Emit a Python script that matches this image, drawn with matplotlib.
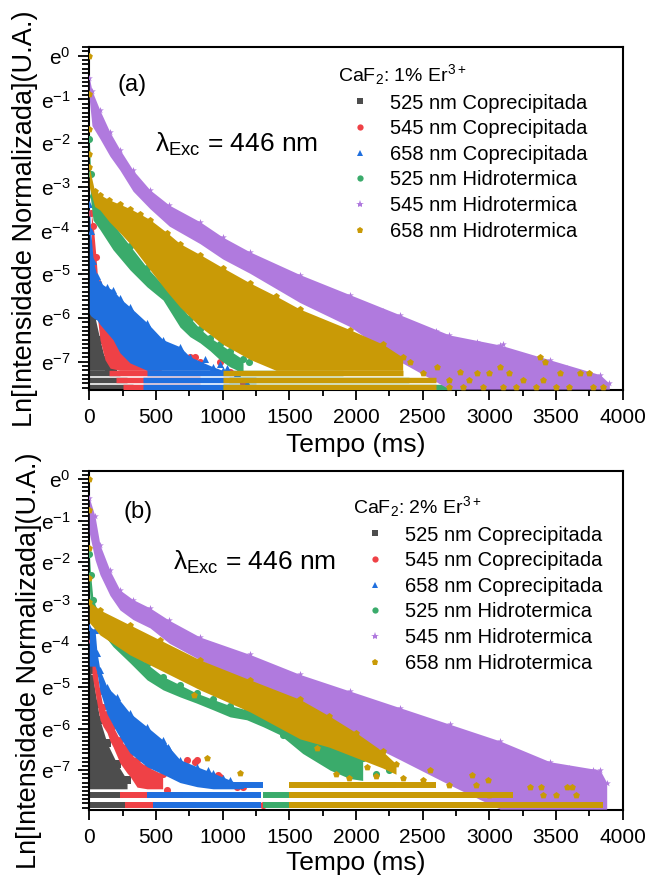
import numpy as np
import matplotlib
matplotlib.use("Agg")
import matplotlib.pyplot as plt
from matplotlib.lines import Line2D
from matplotlib.ticker import MultipleLocator, FuncFormatter

plt.rcParams['font.family'] = ['Liberation Sans', 'DejaVu Sans']
plt.rcParams['mathtext.fontset'] = 'custom'
plt.rcParams['mathtext.rm'] = 'Liberation Sans'
plt.rcParams['mathtext.it'] = 'Liberation Sans:italic'
plt.rcParams['mathtext.bf'] = 'Liberation Sans:bold'

# ---- series definitions -------------------------------------------------
labels = ["525 nm Coprecipitada", "545 nm Coprecipitada", "658 nm Coprecipitada",
          "525 nm Hidrotermica", "545 nm Hidrotermica", "658 nm Hidrotermica"]
colors = ["#4d4d4d", "#ef4146", "#1f6fde", "#3aab6b", "#b07ade", "#c99a06"]
markers = ["s", "o", "^", "o", "*", "p"]

# Each decay is described by its noise envelope (time ms, upper ln I, lower ln I),
# the quantised floor rows (ln I, t start, t end) and isolated points (t, ln I).

# ---------------- CaF2: 1% Er3+ ----------------
a_525c_band = [(0, -5.9, -7.2), (40, -5.95, -7.2), (80, -6.5, -7.2), (118, -6.96, -7.2),
               (150, -7.12, -7.22), (178, -7.22, -7.24)]
a_525c_rows = [(-7.27, 0, 230), (-7.42, 0, 280), (-7.57, 0, 330)]
a_525c_pts = []

a_545c_band = [(15, -3.6, -4.3), (30, -3.9, -5.0), (50, -4.6, -5.7), (65, -5.2, -6.1),
               (80, -5.7, -6.5), (118, -6.0, -6.96), (156, -6.27, -7.15), (230, -6.5, -7.2),
               (306, -6.73, -7.2), (380, -6.9, -7.2), (455, -7.0, -7.2), (540, -7.1, -7.2)]
a_545c_rows = [(-7.27, 150, 830), (-7.42, 200, 830), (-7.57, 250, 830)]
a_545c_pts = [(620, -7.05), (700, -7.1), (755, -6.89), (790, -6.89), (830, -7.0),
              (982, -7.0), (1057, -7.24), (1155, -7.5)]

a_658c_band = [(0, -3.4, -5.9), (10, -4.0, -5.95), (30, -4.7, -6.0), (58, -5.05, -6.05),
               (80, -5.2, -6.15), (133, -5.3, -6.34), (178, -5.36, -6.5), (230, -5.55, -6.8),
               (305, -5.75, -7.03), (433, -6.11, -7.2), (553, -6.5, -7.2), (680, -6.66, -7.2),
               (755, -6.89, -7.2), (928, -7.12, -7.2), (1000, -7.2, -7.22)]
a_658c_rows = [(-7.27, 430, 1100), (-7.42, 400, 1250), (-7.57, 400, 1250)]
a_658c_pts = [(870, -6.95), (980, -7.05), (1030, -7.15), (1108, -7.26), (1183, -7.49)]

a_525h_band = [(0, -1.9, -2.4), (10, -2.7, -3.3), (28, -3.2, -3.76), (80, -3.45, -3.98),
               (178, -3.85, -4.44), (305, -4.35, -4.9), (433, -4.85, -5.29), (553, -5.25, -5.59),
               (680, -5.7, -6.21), (755, -6.0, -6.43), (830, -6.25, -6.57), (905, -6.45, -6.75),
               (980, -6.6, -6.96), (1055, -6.75, -7.12), (1153, -6.95, -7.26)]
a_525h_rows = [(-7.27, 1100, 1900), (-7.42, 1050, 2400), (-7.57, 1000, 2800)]
a_525h_pts = [(1200, -7.0), (1290, -6.9), (1600, -6.55), (1680, -6.65), (1750, -6.75),
              (3380, -7.45)]

a_545h_band = [(0, -0.5, -1.0), (20, -0.8, -1.6), (80, -1.25, -1.9), (155, -1.75, -2.3),
               (230, -2.15, -2.62), (328, -2.62, -3.1), (455, -3.07, -3.5), (600, -3.42, -3.9),
               (830, -3.8, -4.3), (1000, -4.15, -4.65), (1205, -4.49, -4.98),
               (1580, -5.01, -5.65), (1955, -5.47, -6.2), (2330, -5.93, -7.0),
               (2700, -6.39, -7.63), (3080, -6.62, -7.63), (3455, -6.96, -7.63),
               (3830, -7.3, -7.63), (3900, -7.5, -7.63)]
a_545h_rows = []
a_545h_pts = [(2392, -6.16), (2905, -6.55), (3103, -6.6), (3283, -7.0), (3583, -7.15),
              (3620, -7.2), (2600, -6.3), (2200, -5.85)]

a_658h_band = [(0, -2.55, -3.0), (40, -3.1, -3.45), (80, -3.18, -3.53), (150, -3.3, -3.8),
               (230, -3.4, -4.05), (305, -3.5, -4.3), (380, -3.62, -4.6), (455, -3.75, -4.9),
               (583, -4.05, -5.4), (680, -4.3, -5.75), (830, -4.55, -6.2),
               (1000, -4.85, -6.6), (1205, -5.2, -6.95), (1400, -5.5, -7.2),
               (1580, -5.8, -7.2), (1955, -6.27, -7.2), (2200, -6.6, -7.2), (2350, -6.9, -7.2)]
a_658h_rows = [(-7.27, 1000, 2350), (-7.42, 1000, 2600), (-7.57, 1000, 2600)]
a_658h_pts = [(1, 0.0), (1, -0.88), (1, -1.68), (1, -2.25),
              (1680, -6.46), (2205, -6.8), (2280, -7.0), (2405, -7.0), (2605, -7.12),
              (2780, -7.24), (2905, -7.27), (3000, -7.27), (3080, -7.12), (3150, -7.27),
              (3380, -6.89), (3420, -7.0), (3530, -7.27), (3680, -7.27), (3750, -7.27),
              (2500, -7.27), (2700, -7.42), (2850, -7.42), (3250, -7.42), (3400, -7.42),
              (2700, -7.57), (2800, -7.57), (2950, -7.57), (3100, -7.57), (3200, -7.57),
              (3350, -7.57), (3500, -7.57), (3600, -7.57), (3780, -7.57), (3850, -7.57)]

# ---------------- CaF2: 2% Er3+ ----------------
b_525c_band = [(0, -4.6, -7.45), (28, -4.8, -7.45), (58, -5.4, -7.45), (80, -5.8, -7.45),
               (133, -6.35, -7.45), (208, -6.85, -7.45), (283, -7.24, -7.45)]
b_525c_rows = [(-7.60, 0, 250), (-7.83, 0, 290)]
b_525c_pts = []

b_545c_band = [(20, -3.9, -4.7), (58, -4.66, -5.4), (80, -5.1, -5.79), (103, -5.48, -5.95),
               (133, -5.65, -6.1), (155, -5.79, -6.3), (178, -5.95, -6.44), (230, -6.27, -6.83),
               (283, -6.45, -7.07), (305, -6.59, -7.15), (358, -6.75, -7.41), (433, -6.92, -7.45),
               (550, -7.1, -7.45)]
b_545c_rows = [(-7.60, 230, 700), (-7.83, 270, 800)]
b_545c_pts = [(580, -7.48), (733, -6.76), (793, -6.8), (805, -6.75), (965, -7.11),
              (980, -7.16), (1108, -7.41), (1153, -7.41), (1300, -7.83)]

b_658c_band = [(0, -3.55, -4.5), (43, -3.63, -4.5), (58, -4.18, -4.66), (80, -4.59, -5.1),
               (133, -5.0, -5.65), (208, -5.24, -6.1), (305, -5.63, -6.59), (433, -5.96, -6.92),
               (553, -6.28, -7.1), (680, -6.75, -7.3), (808, -6.92, -7.4), (928, -7.07, -7.45),
               (1055, -7.24, -7.45), (1130, -7.35, -7.45)]
b_658c_rows = [(-7.37, 900, 1300), (-7.60, 433, 1290), (-7.83, 480, 1290)]
b_658c_pts = [(590, -6.44), (600, -6.5), (890, -7.0), (1000, -7.2)]

b_525h_band = [(0, -1.8, -2.6), (10, -2.3, -3.1), (28, -2.9, -3.39), (80, -3.3, -3.63),
               (178, -3.7, -4.03), (305, -4.1, -4.42), (433, -4.45, -4.83), (553, -4.75, -5.07),
               (680, -4.95, -5.24), (805, -5.15, -5.39), (928, -5.3, -5.55), (1055, -5.45, -5.72),
               (1180, -5.55, -5.79), (1305, -5.7, -5.96), (1430, -5.8, -6.15), (1600, -6.0, -6.6),
               (1805, -6.2, -7.0), (1950, -6.4, -7.2), (2050, -6.7, -7.25)]
b_525h_rows = [(-7.37, 1800, 2300), (-7.60, 1300, 3000), (-7.83, 1300, 3500)]
b_525h_pts = [(1450, -6.15), (1530, -6.27), (1705, -6.59), (2150, -7.1), (2250, -7.0)]

b_545h_band = [(0, -0.45, -1.3), (43, -0.9, -1.94), (80, -1.58, -2.3), (155, -2.2, -2.8),
               (230, -2.67, -3.15), (328, -2.9, -3.38), (455, -3.1, -3.58), (600, -3.4, -3.95),
               (830, -3.8, -4.35), (1205, -4.22, -4.95), (1580, -4.7, -5.8),
               (1955, -5.1, -6.15), (2330, -5.5, -6.75), (2705, -5.9, -7.36), (3080, -6.3, -7.94),
               (3455, -6.8, -7.94), (3830, -7.0, -7.94), (3880, -7.3, -7.94)]
b_545h_rows = []
b_545h_pts = [(2558, -6.1), (3460, -6.95), (3600, -6.95), (3780, -7.0)]

b_658h_band = [(0, -2.95, -3.45), (80, -3.15, -3.75), (305, -3.51, -4.23), (530, -3.87, -4.59),
               (830, -4.35, -5.07), (1205, -4.83, -5.6), (1580, -5.3, -6.25), (1800, -5.7, -6.45),
               (2000, -6.1, -6.7), (2200, -6.55, -6.95), (2300, -6.85, -7.1)]
b_658h_rows = [(-7.37, 1500, 2600), (-7.60, 1500, 3180), (-7.83, 1500, 3850)]
b_658h_pts = [(1, 0.0), (1, -0.75), (1, -1.65), (1, -2.37),
              (783, -5.19), (880, -6.7), (1130, -7.07), (1705, -6.47), (2083, -6.93),
              (1850, -7.1), (1950, -7.2), (2150, -7.15), (2350, -7.2),
              (2558, -7.0), (2870, -7.12), (2993, -7.24), (3305, -7.4), (3390, -7.4),
              (3580, -7.4), (3620, -7.4), (2505, -7.24), (2700, -7.37), (2900, -7.37),
              (3000, -7.6), (3400, -7.6), (3500, -7.6), (3650, -7.6)]

panel_a = [(a_525c_band, a_525c_rows, a_525c_pts), (a_545c_band, a_545c_rows, a_545c_pts),
           (a_658c_band, a_658c_rows, a_658c_pts), (a_525h_band, a_525h_rows, a_525h_pts),
           (a_545h_band, a_545h_rows, a_545h_pts), (a_658h_band, a_658h_rows, a_658h_pts)]
panel_b = [(b_525c_band, b_525c_rows, b_525c_pts), (b_545c_band, b_545c_rows, b_545c_pts),
           (b_658c_band, b_658c_rows, b_658c_pts), (b_525h_band, b_525h_rows, b_525h_pts),
           (b_545h_band, b_545h_rows, b_545h_pts), (b_658h_band, b_658h_rows, b_658h_pts)]

MS = 26          # marker area (pt^2)


def draw_series(ax, band, rows, pts, color, marker, z, row_lw):
    if band:
        b = np.array(band, float)
        ax.fill_between(b[:, 0], b[:, 2], b[:, 1], color=color, lw=0, zorder=z)
        ax.scatter(b[:, 0], b[:, 1], s=MS, marker=marker, color=color, lw=0, zorder=z)
    for lvl, t0, t1 in rows:
        ax.plot([t0, t1], [lvl, lvl], color=color, lw=row_lw, solid_capstyle='butt', zorder=z)
    if pts:
        p = np.array(pts, float)
        ax.scatter(p[:, 0], p[:, 1], s=MS, marker=marker, color=color, lw=0, zorder=z)


def e_label(v, pos):
    n = int(round(v))
    return r'$\mathregular{e^{%d}}$' % n


W, H = 651, 881
fig = plt.figure(figsize=(W / 100, H / 100), dpi=100)


def px_axes(left, top, right, bottom):
    return fig.add_axes([left / W, 1 - bottom / H, (right - left) / W, (bottom - top) / H])


ax_a = px_axes(89.3, 47, 622.7, 390)
ax_b = px_axes(89.3, 470.7, 622.7, 810)

setup = [
    (ax_a, panel_a, -7.65, 3.9, "(a)", (0.080, 0.889), (0.123, 0.694), "1%",
     (338, 62), -0.097, 0.5, -0.125),
    (ax_b, panel_b, -7.96, 4.3, "(b)", (0.091, 0.878), (0.157, 0.707), "2%",
     (353, 494), -0.089, 0.44, -0.12),
]

for ax, panel, ymin, row_lw, tag, tag_xy, lam_xy, conc, leg_xy, ylx, yly, xly in setup:
    for i, (band, rows, pts) in enumerate(panel):
        draw_series(ax, band, rows, pts, colors[i], markers[i], 2 + i, row_lw)

    ax.set_xlim(0, 4000)
    ax.set_ylim(ymin, 0.2)
    ax.xaxis.set_major_locator(MultipleLocator(500))
    ax.xaxis.set_minor_locator(MultipleLocator(250))
    ax.yaxis.set_major_locator(MultipleLocator(1))
    ax.yaxis.set_minor_locator(MultipleLocator(0.1))
    ax.yaxis.set_major_formatter(FuncFormatter(e_label))
    ax.tick_params(axis='both', which='both', direction='out', width=1.3,
                   top=False, right=False, labelsize=15)
    ax.tick_params(axis='y', which='major', length=8, pad=5.5)
    ax.tick_params(axis='y', which='minor', length=4.8)
    ax.tick_params(axis='x', which='major', length=7, pad=6)
    ax.tick_params(axis='x', which='minor', length=4.5)
    for s in ax.spines.values():
        s.set_linewidth(1.5)

    ax.set_xlabel("Tempo (ms)", fontsize=19)
    ax.xaxis.set_label_coords(0.5, xly)
    ax.set_ylabel("Ln[Intensidade Normalizada](U.A.)", fontsize=19.5)
    ax.yaxis.set_label_coords(ylx, yly)

    ax.text(*tag_xy, tag, transform=ax.transAxes, fontsize=17, ha='center', va='center')
    ax.text(*lam_xy, r'$\mathrm{\lambda}_{\mathrm{Exc}}$ = 446 nm', transform=ax.transAxes,
            fontsize=19, ha='left', va='baseline')

    handles = [Line2D([], [], ls='none', marker=markers[i], color=colors[i],
                      markersize=4.5 if markers[i] != '*' else 6, markeredgewidth=0)
               for i in range(6)]
    leg = ax.legend(handles, labels, title=r'CaF$_2$: ' + conc + r' Er$^{3+}$',
                    loc='upper left', bbox_to_anchor=(leg_xy[0] / W, 1 - leg_xy[1] / H),
                    bbox_transform=fig.transFigure, frameon=False, fontsize=14.5,
                    title_fontsize=14, alignment='left', borderpad=0,
                    handlelength=2.2, handletextpad=0.36, labelspacing=0.33,
                    borderaxespad=0)
    leg.set_zorder(20)

fig.savefig("out.png", dpi=100)
